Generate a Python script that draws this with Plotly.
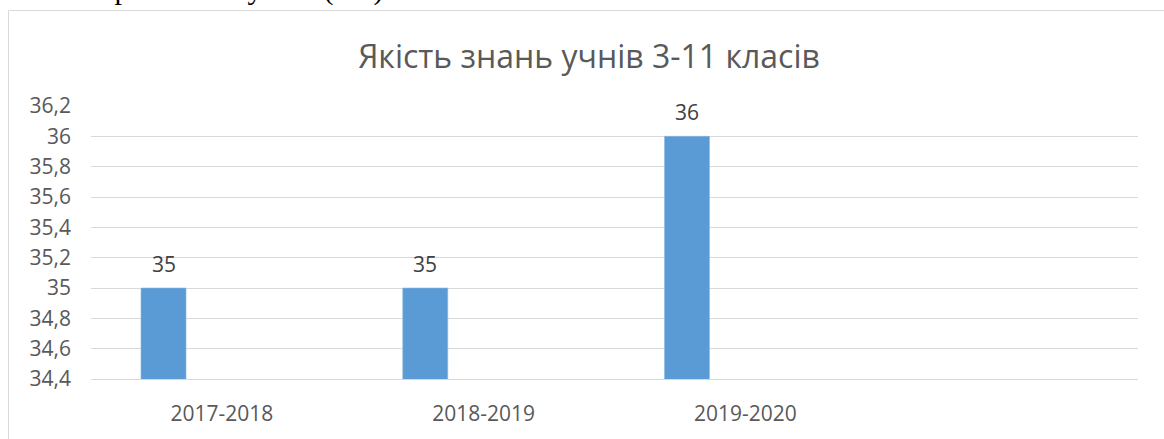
import plotly.graph_objects as go

categories = ["2017-2018", "2018-2019", "2019-2020"]
values = [35, 35, 36]
title_text = "Якість знань учнів 3-11 класів"
doc_text = "Високий рівень – 9 учнів (2%)."

W, H = 1164, 439
ML, MR, MT, MB = 91, 1164 - 1138, 106, 439 - 382
PW, PH = W - ML - MR, H - MT - MB

def px_x(p):
    return (p - ML) / PW

def px_y(p):
    return 1 - (p - MT) / PH

bar_w = 0.172
bar_off = -0.309

fig = go.Figure()
fig.add_trace(go.Bar(
    x=categories, y=values,
    width=bar_w, offset=bar_off,
    marker=dict(color="#5B9BD5", line=dict(color="#8DB8E3", width=0.6)),
    hoverinfo="x+y",
))

for i, v in enumerate(values):
    fig.add_annotation(
        x=i + bar_off + bar_w / 2, y=v, xref="x", yref="y",
        text=str(v), showarrow=False, yanchor="bottom", yshift=8,
        font=dict(family="Open Sans", size=21, color="#404040"),
    )

fig.add_annotation(
    x=px_x(393), y=px_y(7), xref="paper", yref="paper",
    text=doc_text, showarrow=False, xanchor="right", yanchor="bottom",
    font=dict(family="Liberation Serif", size=30, color="#000000"),
)

fig.add_shape(type="rect", xref="paper", yref="paper",
              x0=px_x(8.5), x1=px_x(1200), y0=px_y(480), y1=px_y(9.5),
              line=dict(color="#D9D9D9", width=1), fillcolor="rgba(0,0,0,0)",
              layer="below")

fig.update_layout(
    width=W, height=H,
    margin=dict(l=ML, r=MR, t=MT, b=MB, pad=0),
    paper_bgcolor="white", plot_bgcolor="white",
    separators=", ",
    showlegend=False,
    title=dict(text=title_text, x=px_x(589), xref="paper", xanchor="center",
               y=1 - 57 / H, yref="container", yanchor="middle",
               font=dict(family="Open Sans", size=32, color="#595959")),
    xaxis=dict(type="category", range=[-0.5, 3.5], showgrid=False,
               showline=True, linecolor="#D9D9D9", linewidth=1,
               ticks="", ticklabelstandoff=16,
               tickfont=dict(family="Open Sans", size=21, color="#595959")),
    yaxis=dict(range=[34.4, 36.2], dtick=0.2, tick0=34.4,
               showgrid=True, gridcolor="#D9D9D9", gridwidth=1,
               zeroline=False, showline=False, ticks="",
               ticklabelstandoff=19,
               tickfont=dict(family="Open Sans", size=21, color="#595959")),
)

fig.write_html("out.html",
               config={"displayModeBar": False},
               post_script="document.body.style.margin='0';document.body.style.overflow='hidden';")
